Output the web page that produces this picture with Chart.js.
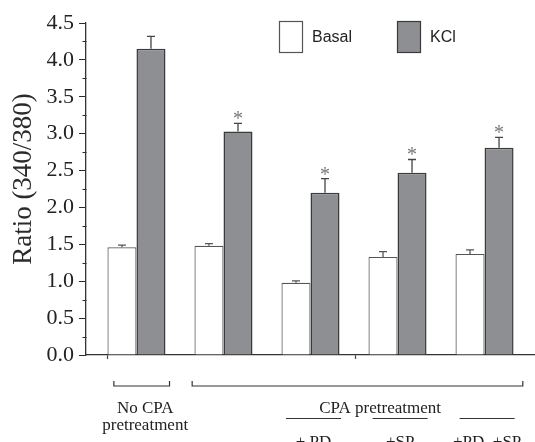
<!DOCTYPE html>
<html>
<head>
<meta charset="utf-8">
<script src="https://cdn.jsdelivr.net/npm/chart.js@4/dist/chart.umd.min.js"></script>
<style>
  html, body { margin: 0; padding: 0; background: #fff; }
  #wrap { width: 535px; height: 442px; }
</style>
</head>
<body>
<div id="wrap"><canvas id="c" width="535" height="442"></canvas></div>
<script>
// Groups along the x axis (1-based positions on a linear axis)
const categories = ['No CPA pretreatment', 'CPA pretreatment', 'CPA + PD', 'CPA + SP', 'CPA + PD, +SP'];
const seriesNames = ['Basal', 'KCl'];

// Fura-2 ratio (340/380), mean values and SEM
const basalValues = [1.46, 1.48, 0.98, 1.33, 1.37];
const basalErrors = [0.03, 0.03, 0.025, 0.07, 0.055];
const kclValues   = [4.15, 3.03, 2.20, 2.47, 2.81];
const kclErrors   = [0.17, 0.11, 0.19, 0.18, 0.14];
const kclSignificant = [false, true, true, true, true];

// Axis ticks
const yTickLabels = ['0.0', '0.5', '1.0', '1.5', '2.0', '2.5', '3.0', '3.5', '4.0', '4.5'];
const xAxisTickValues = [0.67, 3.52];

const SERIF = '"Liberation Serif", "Times New Roman", serif';
const SANS = '"Liberation Sans", Arial, sans-serif';
const INK = '#2b2b2b';

const toPoints = vals => vals.map((v, i) => ({ x: i + 1, y: v }));

// Group annotations below the axis, in x-axis units
const brackets = [
  { from: 0.74, to: 1.38 },
  { from: 1.64, to: 5.44 }
];
const groupTexts = [
  { at: 1.10, lines: ['No CPA', 'pretreatment'] },
  { at: 3.80, lines: ['CPA pretreatment'] }
];
const subLabels = [
  { at: 3.035, text: '+ PD' },
  { at: 4.03, text: '+SP' },
  { at: 5.03, text: '+PD, +SP' }
];

const errorBarPlugin = {
  id: 'errorBars',
  afterDatasetsDraw(chart) {
    const ctx = chart.ctx;
    const yScale = chart.scales.y;
    const errs = [basalErrors, kclErrors];
    ctx.save();
    chart.data.datasets.forEach((ds, di) => {
      const meta = chart.getDatasetMeta(di);
      meta.data.forEach((bar, j) => {
        const top = yScale.getPixelForValue(ds.data[j].y + errs[di][j]);
        ctx.strokeStyle = di === 0 ? '#555' : '#444';
        ctx.lineWidth = 1.3;
        ctx.beginPath();
        ctx.moveTo(bar.x, bar.y);
        ctx.lineTo(bar.x, top);
        ctx.moveTo(bar.x - 4, top);
        ctx.lineTo(bar.x + 4, top);
        ctx.stroke();
        if (di === 1 && kclSignificant[j]) {
          ctx.fillStyle = '#777';
          ctx.font = '20px ' + SERIF;
          ctx.textAlign = 'center';
          ctx.textBaseline = 'alphabetic';
          ctx.fillText('*', bar.x, top + 2);
        }
      });
    });
    ctx.restore();
  }
};

const decorPlugin = {
  id: 'decor',
  afterDraw(chart) {
    const ctx = chart.ctx;
    const x = chart.scales.x;
    const y = chart.scales.y;
    ctx.save();

    // minor ticks on the value axis
    ctx.strokeStyle = INK;
    ctx.lineWidth = 1;
    const axisX = Math.round(y.right) + 0.5;
    for (let i = 0; i < yTickLabels.length - 1; i++) {
      const v = (parseFloat(yTickLabels[i]) + parseFloat(yTickLabels[i + 1])) / 2;
      const py = Math.round(y.getPixelForValue(v)) + 0.5;
      ctx.beginPath();
      ctx.moveTo(axisX - 4, py);
      ctx.lineTo(axisX, py);
      ctx.stroke();
    }

    // value axis title
    ctx.fillStyle = INK;
    ctx.font = '27px ' + SERIF;
    ctx.textAlign = 'center';
    ctx.textBaseline = 'middle';
    ctx.translate(24, 179);
    ctx.rotate(-Math.PI / 2);
    ctx.fillText('Ratio (340/380)', 0, 0);
    ctx.setTransform(1, 0, 0, 1, 0, 0);

    // legend
    const legendItems = [
      { box: 279, text: 312 },
      { box: 397, text: 430 }
    ];
    chart.data.datasets.forEach((ds, i) => {
      const it = legendItems[i];
      ctx.fillStyle = ds.backgroundColor;
      ctx.fillRect(it.box, 21, 23, 31);
      ctx.strokeStyle = ds.borderColor;
      ctx.lineWidth = 1.2;
      ctx.strokeRect(it.box + 0.5, 21.5, 23, 31);
      ctx.fillStyle = '#222';
      ctx.font = '16px ' + SANS;
      ctx.textAlign = 'left';
      ctx.textBaseline = 'alphabetic';
      ctx.fillText(ds.label, it.text, 42);
    });

    // brackets under the axis
    ctx.strokeStyle = '#333';
    ctx.lineWidth = 1.2;
    brackets.forEach(b => {
      const x1 = x.getPixelForValue(b.from);
      const x2 = x.getPixelForValue(b.to);
      ctx.beginPath();
      ctx.moveTo(x1, 381);
      ctx.lineTo(x1, 386);
      ctx.lineTo(x2, 386);
      ctx.lineTo(x2, 381);
      ctx.stroke();
    });

    ctx.fillStyle = '#222';
    ctx.font = '17px ' + SERIF;
    ctx.textAlign = 'center';
    ctx.textBaseline = 'alphabetic';
    groupTexts.forEach(g => {
      g.lines.forEach((ln, k) => {
        ctx.fillText(ln, x.getPixelForValue(g.at), 413 + k * 17);
      });
    });

    subLabels.forEach(s => {
      const cx = x.getPixelForValue(s.at);
      ctx.strokeStyle = '#333';
      ctx.lineWidth = 1;
      ctx.beginPath();
      ctx.moveTo(cx - 27.5, 418.5);
      ctx.lineTo(cx + 27.5, 418.5);
      ctx.stroke();
      ctx.fillText(s.text, cx, 447);
    });

    ctx.restore();
  }
};

new Chart(document.getElementById('c'), {
  type: 'bar',
  data: {
    datasets: [
      {
        label: seriesNames[0],
        data: toPoints(basalValues),
        backgroundColor: '#ffffff',
        borderColor: '#555555',
        borderWidth: 1.2
      },
      {
        label: seriesNames[1],
        data: toPoints(kclValues),
        backgroundColor: '#8e8f93',
        borderColor: '#3a3a3a',
        borderWidth: 1.5
      }
    ]
  },
  options: {
    responsive: false,
    animation: false,
    devicePixelRatio: 1,
    layout: { padding: { top: 23, right: 0, bottom: 0, left: 0 } },
    categoryPercentage: 0.667,
    barPercentage: 1.0,
    plugins: {
      legend: { display: false },
      tooltip: { enabled: false }
    },
    scales: {
      x: {
        type: 'linear',
        min: 0.42,
        max: 5.58,
        offset: false,
        afterBuildTicks: s => { s.ticks = xAxisTickValues.map(v => ({ value: v })); },
        afterFit: s => { s.height = 87; },
        ticks: { display: false },
        grid: {
          offset: false,
          drawOnChartArea: false,
          drawTicks: true,
          tickLength: 4,
          tickColor: '#444',
          tickWidth: 1.2
        },
        border: { display: true, color: '#333', width: 1.3 }
      },
      y: {
        min: 0,
        max: 4.5,
        afterBuildTicks: s => { s.ticks = yTickLabels.map(t => ({ value: parseFloat(t) })); },
        afterFit: s => { s.width = 86; },
        ticks: {
          callback: (v, i) => yTickLabels[i],
          font: { family: SERIF, size: 22 },
          color: '#222',
          padding: 5
        },
        grid: {
          drawOnChartArea: false,
          drawTicks: true,
          tickLength: 7,
          tickColor: INK,
          tickWidth: 1
        },
        border: { display: true, color: '#333', width: 1.3 }
      }
    }
  },
  plugins: [errorBarPlugin, decorPlugin]
});
</script>
</body>
</html>
